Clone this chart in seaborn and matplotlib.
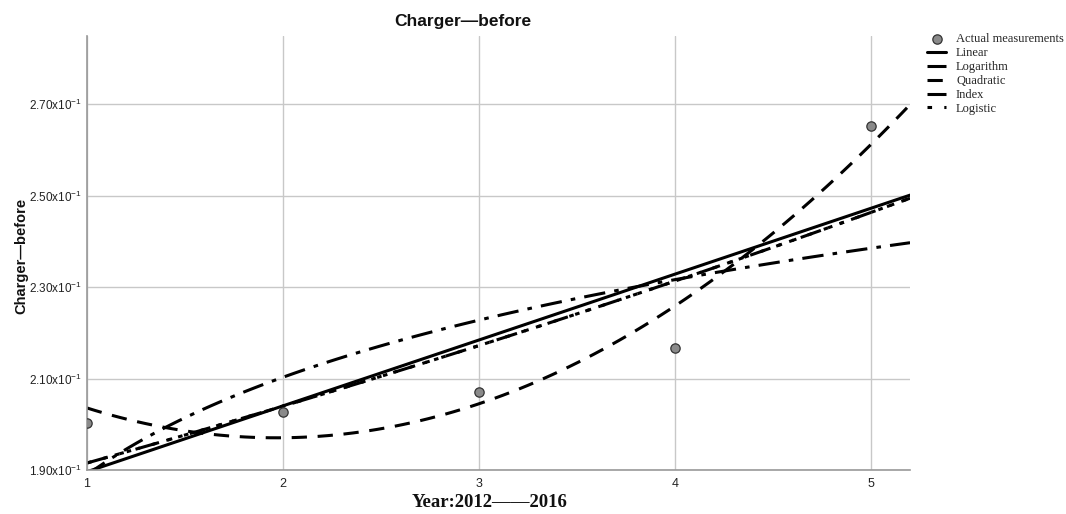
import numpy as np
import pandas as pd
import seaborn as sns
import matplotlib.pyplot as plt

# data (year index 1..5 = 2012..2016)
years = [1, 2, 3, 4, 5]
measured = [0.2003, 0.2027, 0.2071, 0.2167, 0.2653]

y_ticks = [0.19, 0.21, 0.23, 0.25, 0.27]
y_tick_labels = ["1.90x10$^{-1}$", "2.10x10$^{-1}$", "2.30x10$^{-1}$",
                 "2.50x10$^{-1}$", "2.70x10$^{-1}$"]
x_ticks = [1, 2, 3, 4, 5]

title = "Charger—before"
x_label = "Year:2012——2016"
y_label = "Charger—before"

df = pd.DataFrame({"year": years, "value": measured})

sns.set_theme(style="white")
plt.rcParams["font.family"] = ["Liberation Sans", "DejaVu Sans"]
plt.rcParams["mathtext.fontset"] = "custom"
plt.rcParams["mathtext.rm"] = "Liberation Sans"
plt.rcParams["mathtext.default"] = "regular"

fig = plt.figure(figsize=(10.66, 5.14), dpi=100)
ax = fig.add_axes([0.0816, 0.0856, 0.7721, 0.8444])
ax.set_xlim(1, 5.2)
ax.set_ylim(0.19, 0.2849)

line_kw = dict(color="black", lw=2.2)

# fitted curves
sns.regplot(data=df, x="year", y="value", ax=ax, scatter=False, ci=None,
            truncate=False, label="Linear", line_kws=dict(ls="-", **line_kw))
sns.regplot(data=df, x="year", y="value", ax=ax, scatter=False, ci=None,
            truncate=False, logx=True, label="Logarithm",
            line_kws=dict(ls=(0, (7, 3, 1.5, 3)), **line_kw))
sns.regplot(data=df, x="year", y="value", ax=ax, scatter=False, ci=None,
            truncate=False, order=2, label="Quadratic",
            line_kws=dict(ls=(0, (5, 3.5)), **line_kw))

# exponential ("Index") and logistic (no upper bound -> same curve in SPSS)
b1, b0 = np.polyfit(years, np.log(measured), 1)
grid = np.linspace(1, 5.2, 100)
exp_fit = pd.DataFrame({"year": grid, "value": np.exp(b0 + b1 * grid)})
sns.lineplot(data=exp_fit, x="year", y="value", ax=ax,
             ls=(0, (7, 2.5, 1.5, 2.5, 1.5, 2.5)), label="Index", **line_kw)
sns.lineplot(data=exp_fit, x="year", y="value", ax=ax,
             ls=(0, (1.5, 4)), label="Logistic", **line_kw)

sns.scatterplot(data=df, x="year", y="value", ax=ax, s=45, color="#8a8a8a",
                edgecolor="#333333", linewidth=0.9, zorder=5,
                label="Actual measurements")

ax.set_xlim(1, 5.2)
ax.set_ylim(0.19, 0.2849)

ax.set_xticks(x_ticks)
ax.set_xticklabels([str(t) for t in x_ticks], fontsize=9)
ax.set_yticks(y_ticks)
ax.set_yticklabels(y_tick_labels, fontsize=8.5)
ax.tick_params(axis="both", length=2.5, width=0.8, color="#888888",
               labelcolor="#222222", pad=1)
ax.tick_params(axis="x", pad=3)
ax.grid(True, color="#c8c8c8", lw=1)
for side in ["top", "right"]:
    ax.spines[side].set_visible(False)
for side in ["left", "bottom"]:
    ax.spines[side].set_color("#999999")
    ax.spines[side].set_linewidth(1.2)

ax.set_xlabel(x_label, fontsize=13.5, fontweight="bold",
              family=["Liberation Serif", "DejaVu Serif"], color="#111111")
ax.xaxis.set_label_coords((490 - 87) / 823, -(494 - 470) / 434)
ax.set_ylabel(y_label, fontsize=10.5, fontweight="bold", color="#111111")
ax.yaxis.set_label_coords(-(87 - 28) / 823, (470 - 256) / 434)
fig.text(0.434, 0.944, title, ha="center", va="bottom", fontsize=12.5,
         fontweight="bold", color="#111111")

handles, labels = ax.get_legend_handles_labels()
order = ["Actual measurements", "Linear", "Logarithm", "Quadratic", "Index", "Logistic"]
hmap = dict(zip(labels, handles))
ax.legend([hmap[k] for k in order], order, loc="upper left",
          bbox_to_anchor=(0.864, 0.947), bbox_transform=fig.transFigure,
          frameon=False, handlelength=1.5, handletextpad=0.8,
          labelspacing=0.15, borderpad=0,
          prop={"family": ["Liberation Serif", "DejaVu Serif"], "size": 9})

fig.savefig("out.png", dpi=100)
